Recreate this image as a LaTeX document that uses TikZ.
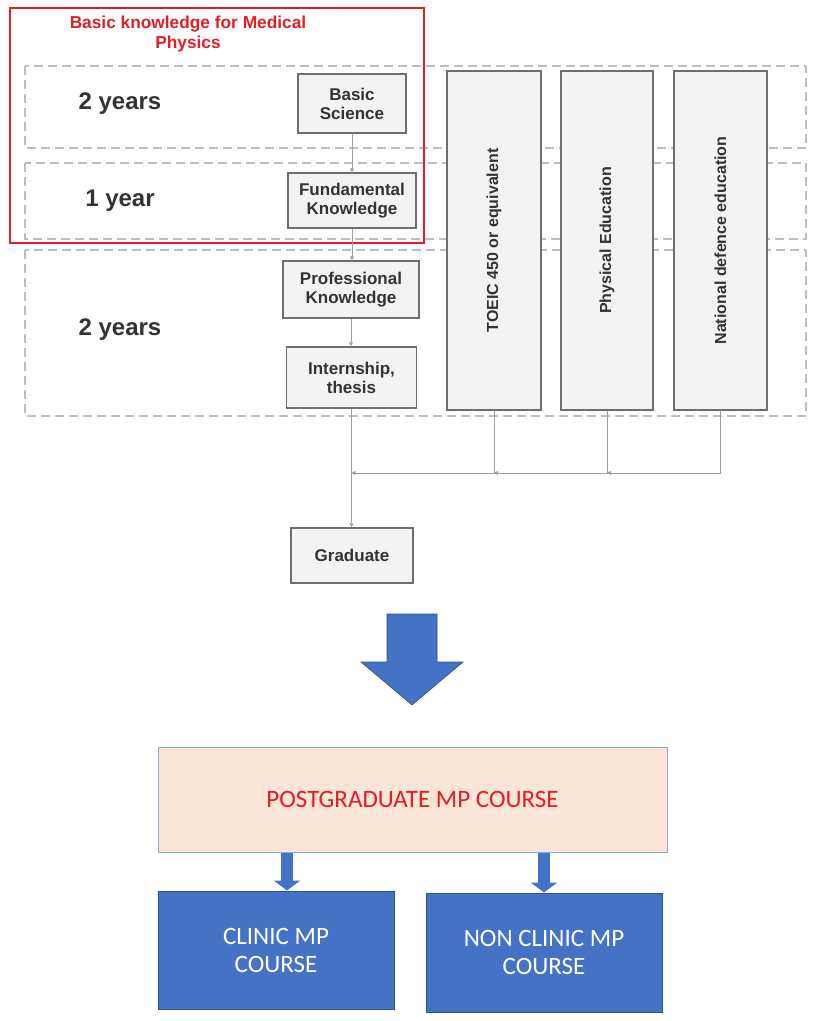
\documentclass[tikz,border=0pt]{standalone}
\usepackage{fontspec}
\setmainfont{Liberation Sans}
\newfontfamily\calibrifont{Carlito}
\usepackage{graphicx}
\usetikzlibrary{arrows.meta}

\definecolor{boxgray}{RGB}{243,243,243}
\definecolor{edgegray}{RGB}{110,110,110}
\definecolor{bandgray}{RGB}{190,190,190}
\definecolor{framered}{RGB}{226,30,38}
\definecolor{mpblue}{RGB}{68,114,196}
\definecolor{mpedge}{RGB}{47,82,143}
\definecolor{peach}{RGB}{251,229,214}
\definecolor{peachedge}{RGB}{143,170,220}

\tikzset{
    stage/.style={draw=edgegray, line width=1.5pt, fill=boxgray, align=center, text=black!80,
        font=\bfseries\fontsize{17}{19}\selectfont},
    sidebox/.style={stage, font=\bfseries\fontsize{16}{18}\selectfont, minimum height=339pt},
    yearlabel/.style={text=black!80, font=\bfseries\fontsize{24}{26}\selectfont},
    flow/.style={draw=gray!75, line width=0.8pt, -{Triangle[length=4pt,width=4pt]}},
    band/.style={draw=bandgray, line width=1.2pt, dash pattern=on 9pt off 5pt},
    course/.style={draw=mpedge, line width=1pt, fill=mpblue, text=white, align=center,
        font=\calibrifont\fontsize{25}{28}\selectfont},
    blockarrow/.style={draw=mpblue, line width=12pt, -{Triangle[length=10pt,width=26pt]}}
}

\begin{document}
\begin{tikzpicture}[x=1pt, y=-1pt]
    \useasboundingbox (0,0) rectangle (822,1021);

    \begin{scope} % Draw dashed year bands
        \draw[band] (25,66) rectangle (806,148);
        \draw[band] (25,163) rectangle (806,239);
        \draw[band] (25,250) rectangle (806,416);
    \end{scope}

    \node[yearlabel] (yearsA) at (120,104) {2 years};
    \node[yearlabel] (yearsB) at (120,201) {1 year};
    \node[yearlabel] (yearsC) at (120,330) {2 years};

    % main stages
    \node[stage, minimum width=108pt, minimum height=59pt] (basic) at (352,103.5) {Basic\\Science};
    \node[stage, minimum width=128pt, minimum height=55pt] (fund) at (352,200.5) {Fundamental\\Knowledge};
    \node[stage, minimum width=136pt, minimum height=57pt] (prof) at (351,289.5) {Professional\\Knowledge};
    \node[stage, minimum width=130pt, minimum height=61pt] (intern) at (351.5,377.5) {Internship,\\thesis};
    \node[stage, minimum width=122pt, minimum height=55pt] (grad) at (352,555.5) {Graduate};

    % side requirements
    \node[sidebox, minimum width=94pt] (toeic) at (494,240.5) {\rotatebox{90}{TOEIC 450 or equivalent}};
    \node[sidebox, minimum width=92pt] (phys) at (607,240.5) {\rotatebox{90}{Physical Education}};
    \node[sidebox, minimum width=93pt] (natdef) at (720.5,240.5) {\rotatebox{90}{National defence education}};

    \draw[framered, line width=2pt] (10,8) rectangle (424,243);
    \node[text=framered, align=center, font=\bfseries\fontsize{17.3}{20}\selectfont] (frametitle) at (188,34)
        {Basic knowledge for Medical\\Physics};

    \draw[flow] (basic.south) -- (basic.south |- fund.north);
    \draw[flow] (fund.south) -- (fund.south |- prof.north);
    \draw[flow] (prof.south) -- (prof.south |- intern.north);
    \draw[flow] (intern.south) -- (intern.south |- grad.north);

    \coordinate (merge) at (352,473);
    \draw[flow] (natdef.south) |- (phys.south |- merge);
    \draw[flow] (phys.south) |- (toeic.south |- merge);
    \draw[flow] (toeic.south) |- (intern.south |- merge);

    % big arrow down
    \filldraw[fill=mpblue, draw=mpedge, line width=0.6pt]
        (387,614) -- (437,614) -- (437,662) -- (463,662) -- (412,705) -- (361,662) -- (387,662) -- cycle;

    \node[draw=peachedge, line width=1pt, fill=peach, minimum width=509pt, minimum height=105pt,
        text=framered, font=\calibrifont\fontsize{25}{28}\selectfont] (postgrad) at (412.5,799.5) {POSTGRADUATE MP COURSE};
    \node[course, minimum width=236pt, minimum height=118pt] (clinic) at (276,950) {CLINIC MP\\COURSE};
    \node[course, minimum width=236pt, minimum height=119pt] (nonclinic) at (544,952.5) {NON CLINIC MP\\COURSE};

    \coordinate (leftdrop) at ([xshift=11pt]clinic.north);
    \draw[blockarrow] (leftdrop |- postgrad.south) -- (leftdrop);
    \draw[blockarrow] (nonclinic.north |- postgrad.south) -- (nonclinic.north);
\end{tikzpicture}
\end{document}
